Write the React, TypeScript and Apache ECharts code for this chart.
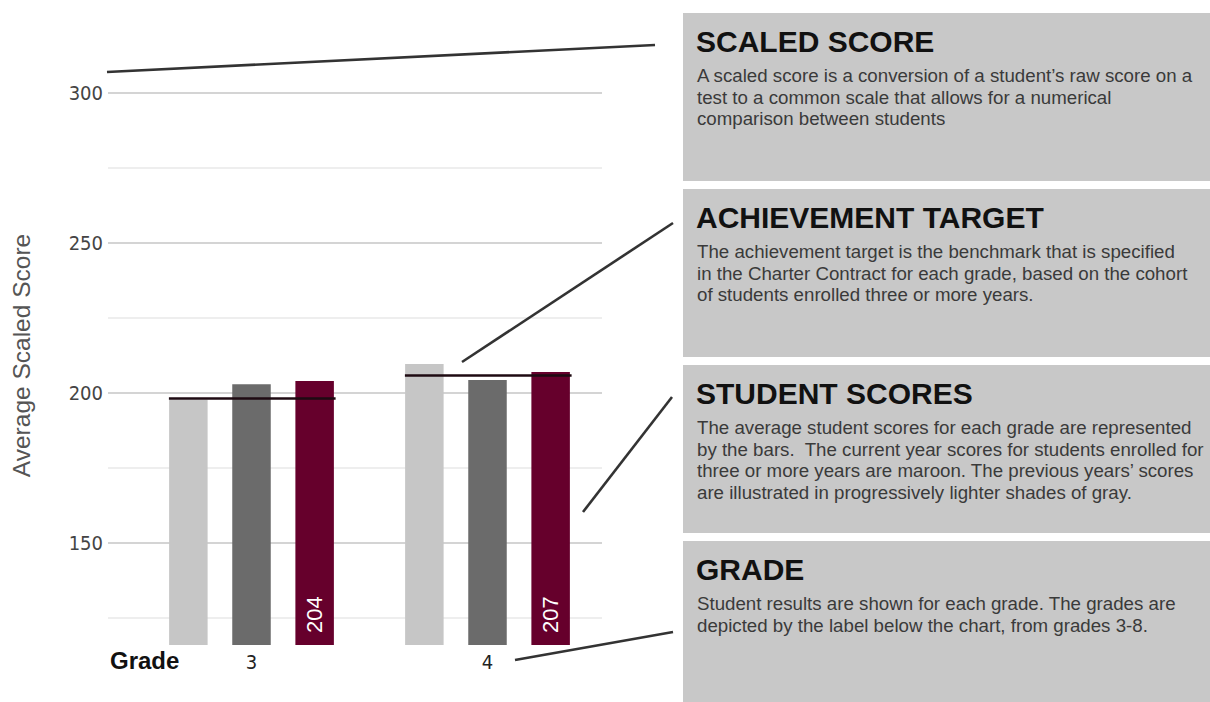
import React, { useEffect, useRef } from 'react';
import * as echarts from 'echarts';

// ---- data ----
const grades = ['3', '4'];
const twoYearsAgo = [197.8, 209.7];
const lastYear = [202.9, 204.3];
const currentYear = [204, 207];
const targets = [198.2, 205.8];
const majorTicks = [150, 200, 250, 300];
const minorTicks = [125, 175, 225, 275];
const yMin = 116;
const yMax = 330;

const panelTitles = ['SCALED SCORE', 'ACHIEVEMENT TARGET', 'STUDENT SCORES', 'GRADE'];
const panelBodies = [
  [
    'A scaled score is a conversion of a student\u2019s raw score on a',
    'test to a common scale that allows for a numerical',
    'comparison between students',
  ],
  [
    'The achievement target is the benchmark that is specified',
    'in the Charter Contract for each grade, based on the cohort',
    'of students enrolled three or more years.',
  ],
  [
    'The average student scores for each grade are represented',
    'by the bars.  The current year scores for students enrolled for',
    'three or more years are maroon. The previous years\u2019 scores',
    'are illustrated in progressively lighter shades of gray.',
  ],
  [
    'Student results are shown for each grade. The grades are',
    'depicted by the label below the chart, from grades 3-8.',
  ],
];

// ---- layout ----
const W = 1210;
const H = 702;
const plotTop = 3;
const plotBottom = 645;
const panelX = 683;
const panelTops = [13, 189, 365, 541];
const panelH = 168;
const connectors = [
  [107, 72, 655, 45],
  [462, 362, 673, 223],
  [583, 512, 672, 397],
  [515, 660, 673, 632],
];

const SANS = '"Liberation Sans", Arial, Helvetica, sans-serif';
const NARROW = '"Liberation Sans Narrow", "Arial Narrow", "DejaVu Sans Condensed", sans-serif';

export default function App() {
  const ref = useRef<HTMLDivElement>(null);

  useEffect(() => {
    document.body.style.margin = '0';
    if (!ref.current) return;
    const chart = echarts.init(ref.current, null, { renderer: 'svg' });

    const graphic: any[] = [];
    panelTops.forEach((top, i) => {
      graphic.push({
        type: 'rect',
        z: 1,
        shape: { x: panelX, y: top, width: W - panelX, height: i === 3 ? H - top : panelH },
        style: { fill: '#c8c8c8' },
      });
      graphic.push({
        type: 'text',
        z: 2,
        x: 696,
        y: top + 28.6,
        style: {
          text: panelTitles[i],
          fontFamily: SANS,
          fontSize: 30,
          fontWeight: 'bold',
          fill: '#111111',
          align: 'left',
          verticalAlign: 'middle',
        },
      });
      graphic.push({
        type: 'text',
        z: 2,
        x: 697,
        y: top + 51.5,
        style: {
          text: panelBodies[i].join('\n'),
          fontFamily: SANS,
          fontSize: 18.7,
          lineHeight: 21.7,
          fill: '#3a3a3a',
          align: 'left',
          verticalAlign: 'top',
        },
      });
    });
    connectors.forEach((c) => {
      graphic.push({
        type: 'line',
        z: 100,
        shape: { x1: c[0], y1: c[1], x2: c[2], y2: c[3] },
        style: { stroke: '#333333', lineWidth: 2.6 },
      });
    });
    graphic.push({
      type: 'text',
      z: 5,
      x: 21,
      y: 355.5,
      rotation: Math.PI / 2,
      style: {
        text: 'Average Scaled Score',
        fontFamily: SANS,
        fontSize: 24.5,
        fill: '#555555',
        align: 'center',
        verticalAlign: 'middle',
      },
    });
    graphic.push({
      type: 'text',
      z: 5,
      x: 110,
      y: 660,
      style: {
        text: 'Grade',
        fontFamily: SANS,
        fontSize: 24,
        fontWeight: 'bold',
        fill: '#111111',
        align: 'left',
        verticalAlign: 'middle',
      },
    });

    const option: any = {
      animation: false,
      backgroundColor: '#ffffff',
      grid: [
        { left: 108, right: W - 602, top: plotTop, bottom: H - plotBottom, containLabel: false },
        { left: 133.5, width: 472, top: plotTop, bottom: H - plotBottom, containLabel: false },
      ],
      xAxis: [
        { type: 'value', gridIndex: 0, min: 0, max: 1, show: false },
        {
          type: 'category',
          gridIndex: 1,
          data: grades,
          axisLine: { show: false },
          axisTick: { show: false },
          splitLine: { show: false },
          axisLabel: { margin: 7, fontSize: 20, fontFamily: NARROW, color: '#222222' },
        },
      ],
      yAxis: [
        {
          type: 'value',
          gridIndex: 0,
          min: yMin,
          max: yMax,
          axisLine: { show: false },
          axisTick: { show: false },
          splitLine: { show: false },
          axisLabel: {
            customValues: majorTicks,
            margin: 5,
            fontSize: 20,
            fontFamily: NARROW,
            color: '#444444',
          },
        },
        {
          type: 'value',
          gridIndex: 1,
          min: yMin,
          max: yMax,
          show: false,
          splitLine: { show: false },
        },
      ],
      series: [
        {
          type: 'line',
          xAxisIndex: 0,
          yAxisIndex: 0,
          data: [],
          z: 0,
          silent: true,
          markLine: {
            z: 0,
            silent: true,
            symbol: ['none', 'none'],
            label: { show: false },
            data: [
              ...minorTicks.map((v) => ({ yAxis: v, lineStyle: { color: '#eeeeee', width: 2, type: 'solid' } })),
              ...majorTicks.map((v) => ({ yAxis: v, lineStyle: { color: '#d4d4d4', width: 2, type: 'solid' } })),
            ],
          },
        },
        {
          type: 'bar',
          xAxisIndex: 1,
          yAxisIndex: 1,
          z: 3,
          data: twoYearsAgo,
          barWidth: 38.5,
          barGap: '64%',
          itemStyle: { color: '#c6c6c6' },
        },
        {
          type: 'bar',
          xAxisIndex: 1,
          yAxisIndex: 1,
          z: 3,
          data: lastYear,
          barWidth: 38.5,
          barGap: '64%',
          itemStyle: { color: '#6b6b6b' },
        },
        {
          type: 'bar',
          xAxisIndex: 1,
          yAxisIndex: 1,
          z: 3,
          data: currentYear,
          barWidth: 38.5,
          barGap: '64%',
          itemStyle: { color: '#66002c' },
          label: {
            show: true,
            position: 'insideBottom',
            rotate: 90,
            align: 'left',
            verticalAlign: 'middle',
            distance: 12,
            color: '#ffffff',
            fontSize: 22,
            fontFamily: SANS,
            formatter: '{c}',
          },
        },
        {
          type: 'custom',
          xAxisIndex: 1,
          yAxisIndex: 1,
          z: 10,
          silent: true,
          data: targets.map((t, i) => [i, t]),
          encode: { x: 0, y: 1 },
          renderItem: (params: any, api: any) => {
            const c = api.coord([api.value(0), api.value(1)]);
            const bw = api.size([1, 0])[0];
            const half = (bw * 0.7) / 2;
            return {
              type: 'line',
              shape: { x1: c[0] - half, y1: c[1], x2: c[0] + half + 1.5, y2: c[1] },
              style: { stroke: '#1e0a12', lineWidth: 2.5 },
            };
          },
        },
      ],
      graphic,
    };

    chart.setOption(option);
    return () => chart.dispose();
  }, []);

  return <div ref={ref} style={{ width: W, height: H }} />;
}
